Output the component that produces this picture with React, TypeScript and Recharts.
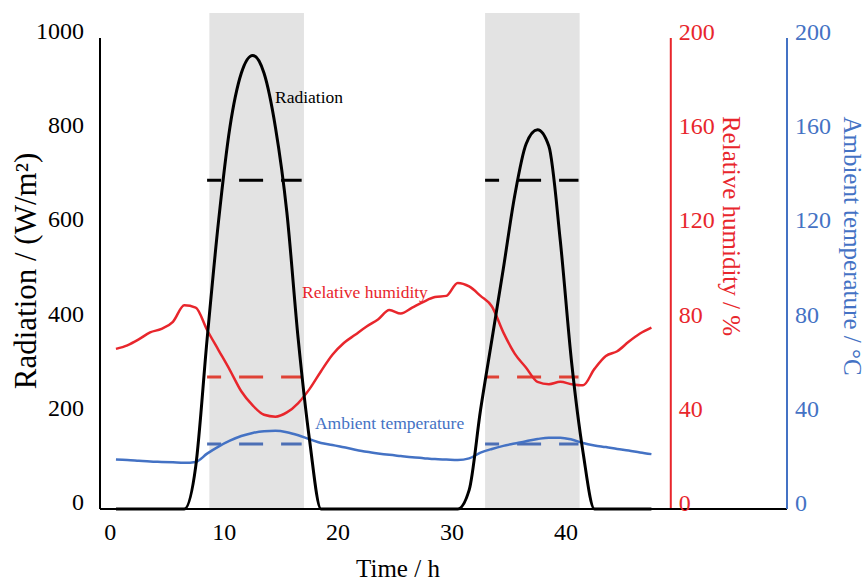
import React from "react";
import {
  LineChart,
  Line,
  XAxis,
  YAxis,
  ReferenceArea,
  ReferenceLine,
  ReferenceDot,
} from "recharts";

const FONT = '"Times New Roman", "Liberation Serif", serif';
const BLACK = "#000000";
const RED = "#E8262C";
const RED_DASH = "#DF4236";
const BLUE = "#4472C4";
const BLUE_DASH = "#4C6FB5";
const GRAY = "#E3E3E3";

// hourly readings
const hours = [
  0.5, 1.5, 2.5, 3.5, 4.5, 5.5, 6.5, 7.5, 8.5, 9.5, 10.5, 11.5, 12.5, 13.5, 14.5, 15.5,
  16.5, 17.5, 18.5, 19.5, 20.5, 21.5, 22.5, 23.5, 24.5, 25.5, 26.5, 27.5, 28.5, 29.5, 30.5,
  31.5, 32.5, 33.5, 34.5, 35.5, 36.5, 37.5, 38.5, 39.5, 40.5, 41.5, 42.5, 43.5, 44.5, 45.5,
  46.5, 47.5,
];

const radiation = [
  0, 0, 0, 0, 0, 0, 0, 90, 360, 610, 810, 925, 963, 925, 810, 630,
  360, 145, 0, 0, 0, 0, 0, 0, 0, 0, 0, 0, 0, 0, 0,
  40, 210, 360, 510, 665, 775, 805, 770, 570, 310, 120, 0, 0, 0, 0,
  0, 0,
];

const humidity = [
  68, 69.5, 72, 75, 76.5, 79.5, 86.5, 85.5, 76, 67.5, 59, 50, 44, 40, 39.2, 41,
  45, 51, 58.5, 65.5, 70.5, 74, 77.5, 80.5, 84.5, 83, 85.5, 88, 90, 90.5, 96,
  94.5, 90.5, 86, 75, 66, 60, 54, 53, 54, 53, 52.5, 59.5, 65, 67, 71,
  74.5, 77,
];

const temperature = [
  21, 20.8, 20.5, 20.2, 20, 19.8, 19.6, 20, 23.5, 26.5, 29, 31, 32.3, 33, 33.2, 32.6,
  31.3, 29.6, 28, 27.2, 26.2, 25.2, 24.3, 23.6, 23, 22.5, 22, 21.6, 21.2, 21, 20.8,
  21.5, 23.9, 25.5, 26.8, 27.8, 28.8, 29.7, 30.3, 30.3, 29.5, 28, 27, 26.3, 25.5, 24.8,
  24, 23.3,
];

// daytime bands and their reference levels
const dayStart = [8.7, 32.9];
const dayEnd = [17.0, 41.2];
const bandTop = 1053;
const avgStart = [8.5, 32.9];
const avgEnd = [16.8, 41.1];
const radiationAvg = [698, 698];
const humidityAvg = [56, 56];
const temperatureAvg = [27.6, 27.6];

const xTicks = [0, 10, 20, 30, 40];
const radTicks = [0, 200, 400, 600, 800, 1000];
const rhTicks = [0, 40, 80, 120, 160, 200];
const tempTicks = [0, 40, 80, 120, 160, 200];
const rhAxisAt = 49.2;

const data = hours.map((t, i) => ({
  t,
  rad: radiation[i],
  rh: humidity[i],
  temp: temperature[i],
}));

const segments = avgStart.map((s, i) => [
  { t: s, rad: radiationAvg[i], rh: humidityAvg[i], temp: temperatureAvg[i] },
  { t: avgEnd[i], rad: radiationAvg[i], rh: humidityAvg[i], temp: temperatureAvg[i] },
]);

const vb = (p: any) => p.viewBox || p;

const XTick = ({ x, y, payload }: any) => (
  <text x={x} y={y + 15} textAnchor="middle" dominantBaseline="central"
    fontSize={24} fontFamily={FONT} fill={BLACK}>
    {payload.value}
  </text>
);

const LeftTick = ({ x, y, payload }: any) => (
  <text x={x} y={y - 7} textAnchor="end" dominantBaseline="central"
    fontSize={24} fontFamily={FONT} fill={BLACK}>
    {payload.value}
  </text>
);

const BlueTick = ({ x, y, payload }: any) => (
  <text x={x} y={y - 6} textAnchor="start" dominantBaseline="central"
    fontSize={24} fontFamily={FONT} fill={BLUE}>
    {payload.value}
  </text>
);

const title = (text: string, x: number, y: number, angle: number, color: string, size = 25) => () => (
  <text x={x} y={y} transform={`rotate(${angle} ${x} ${y})`} textAnchor="middle"
    dominantBaseline="central" fontSize={size} fontFamily={FONT} fill={color}>
    {text}
  </text>
);

const seriesLabel = (text: string, color: string) => (p: any) => {
  const b = vb(p);
  return (
    <text x={b.x} y={b.y} dominantBaseline="central" fontSize={17.5}
      fontFamily={FONT} fill={color}>
      {text}
    </text>
  );
};

const rhTickLabel = (v: number) => (p: any) => {
  const b = vb(p);
  return (
    <text x={b.x + 8} y={b.y - 6} dominantBaseline="central" fontSize={24}
      fontFamily={FONT} fill={RED}>
      {v}
    </text>
  );
};

export default function App() {
  return (
    <div style={{ position: "absolute", left: 0, top: 0, width: 867, height: 581, background: "#fff" }}>
      <LineChart
        width={867}
        height={581}
        data={data}
        margin={{ top: 38, right: 0, bottom: 0, left: 0 }}
      >
        <XAxis
          dataKey="t"
          type="number"
          domain={[-0.9, 59.4]}
          allowDataOverflow
          ticks={xTicks}
          tick={XTick}
          tickSize={0}
          tickMargin={8}
          height={72}
          axisLine={{ stroke: BLACK, strokeWidth: 2 }}
          tickLine={false}
          label={title("Time / h", 398, 568, 0, BLACK)}
        />
        <YAxis
          yAxisId="rad"
          domain={[0, 1000]}
          ticks={radTicks}
          tick={LeftTick}
          tickSize={0}
          tickMargin={16}
          width={100}
          axisLine={{ stroke: BLACK, strokeWidth: 2 }}
          tickLine={false}
          label={title("Radiation / (W/m²)", 25, 271, -90, BLACK, 31)}
        />
        <YAxis yAxisId="rh" domain={[0, 200]} hide />
        <YAxis
          yAxisId="temp"
          orientation="right"
          domain={[0, 200]}
          ticks={tempTicks}
          tick={BlueTick}
          tickSize={0}
          tickMargin={8}
          width={80}
          axisLine={{ stroke: BLUE, strokeWidth: 2 }}
          tickLine={false}
          label={title("Ambient temperature / °C", 852, 246, 90, BLUE)}
        />

        {dayStart.map((s, i) => (
          <ReferenceArea
            key={`band${i}`}
            yAxisId="rad"
            x1={s}
            x2={dayEnd[i]}
            y1={0}
            y2={bandTop}
            fill={GRAY}
            fillOpacity={1}
            stroke="none"
            ifOverflow="visible"
          />
        ))}

        <ReferenceLine
          yAxisId="rh"
          x={rhAxisAt}
          stroke={RED}
          strokeWidth={2}
          label={title("Relative humidity / %", 731, 226, 90, RED)}
        />
        {rhTicks.map((v) => (
          <ReferenceDot
            key={`rh${v}`}
            yAxisId="rh"
            x={rhAxisAt}
            y={v}
            r={0}
            fill="none"
            stroke="none"
            label={rhTickLabel(v)}
          />
        ))}

        {segments.map((seg, i) => (
          <Line key={`ra${i}`} data={seg} yAxisId="rad" dataKey="rad" stroke={BLACK}
            strokeWidth={3} strokeDasharray="24 18" strokeDashoffset={10}
            dot={false} isAnimationActive={false} />
        ))}
        {segments.map((seg, i) => (
          <Line key={`rha${i}`} data={seg} yAxisId="rh" dataKey="rh" stroke={RED_DASH}
            strokeWidth={3} strokeDasharray="24 18" strokeDashoffset={10}
            dot={false} isAnimationActive={false} />
        ))}
        {segments.map((seg, i) => (
          <Line key={`ta${i}`} data={seg} yAxisId="temp" dataKey="temp" stroke={BLUE_DASH}
            strokeWidth={3} strokeDasharray="24 18" strokeDashoffset={10}
            dot={false} isAnimationActive={false} />
        ))}

        <Line type="monotone" yAxisId="temp" dataKey="temp" stroke={BLUE}
          strokeWidth={2.5} dot={false} isAnimationActive={false} />
        <Line type="monotone" yAxisId="rh" dataKey="rh" stroke={RED}
          strokeWidth={2.5} dot={false} isAnimationActive={false} />
        <Line type="monotone" yAxisId="rad" dataKey="rad" stroke={BLACK}
          strokeWidth={3} dot={false} isAnimationActive={false} />

        <ReferenceDot yAxisId="rad" x={14.46} y={875} r={0} fill="none" stroke="none"
          label={seriesLabel("Radiation", BLACK)} />
        <ReferenceDot yAxisId="rad" x={16.83} y={461} r={0} fill="none" stroke="none"
          label={seriesLabel("Relative humidity", RED)} />
        <ReferenceDot yAxisId="rad" x={17.97} y={183} r={0} fill="none" stroke="none"
          label={seriesLabel("Ambient temperature", BLUE)} />
      </LineChart>
    </div>
  );
}
